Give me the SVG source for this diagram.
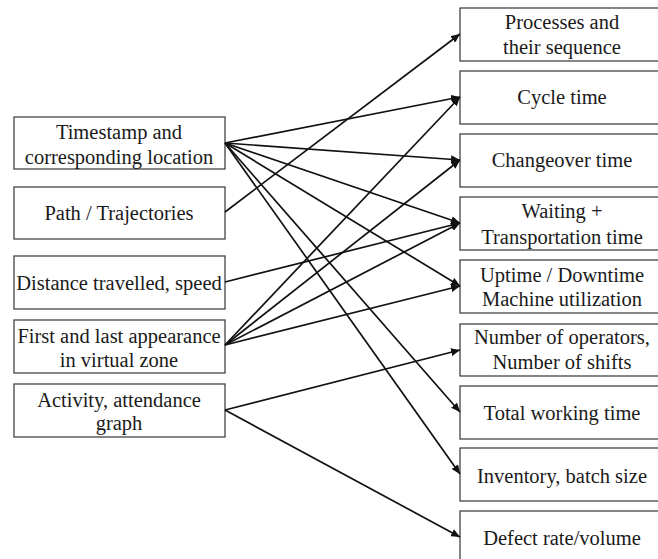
<svg xmlns="http://www.w3.org/2000/svg" width="658" height="559" viewBox="0 0 658 559">
  <style>
    .box { fill: #ffffff; stroke: #444444; stroke-width: 1.3; }
    .lbl { font-family: "Liberation Serif", "Times New Roman", serif; font-size: 20.5px; fill: #1a1a1a; text-anchor: middle; }
    .link { stroke: #111111; stroke-width: 1.7; fill: none; marker-end: url(#arrow); }
  </style>
  <defs>
    <marker id="arrow" markerUnits="userSpaceOnUse" markerWidth="10" markerHeight="8" refX="9" refY="4" orient="auto">
      <path d="M0,0 L9,4 L0,8 Z" fill="#111111"/>
    </marker>
  </defs>
  <rect width="658" height="559" fill="#ffffff"/>

  <!-- data sources -->
  <g id="src-timestamp">
    <rect class="box" x="14" y="117" width="211" height="52"/>
    <text class="lbl" x="119" y="139">Timestamp and</text>
    <text class="lbl" x="119" y="164">corresponding location</text>
  </g>
  <g id="src-path">
    <rect class="box" x="14" y="187" width="211" height="52"/>
    <text class="lbl" x="119" y="220">Path / Trajectories</text>
  </g>
  <g id="src-distance">
    <rect class="box" x="14" y="256" width="211" height="53"/>
    <text class="lbl" x="119" y="290">Distance travelled, speed</text>
  </g>
  <g id="src-appearance">
    <rect class="box" x="14" y="320" width="211" height="53"/>
    <text class="lbl" x="119" y="343">First and last appearance</text>
    <text class="lbl" x="119" y="367">in virtual zone</text>
  </g>
  <g id="src-activity">
    <rect class="box" x="14" y="384" width="211" height="53"/>
    <text class="lbl" x="119" y="407">Activity, attendance</text>
    <text class="lbl" x="119" y="430">graph</text>
  </g>

  <!-- derived metrics -->
  <g id="m-processes">
    <rect class="box" x="460" y="8" width="220" height="53"/>
    <text class="lbl" x="562" y="29">Processes and</text>
    <text class="lbl" x="562" y="54">their sequence</text>
  </g>
  <g id="m-cycle">
    <rect class="box" x="460" y="71" width="220" height="53"/>
    <text class="lbl" x="562" y="104">Cycle time</text>
  </g>
  <g id="m-changeover">
    <rect class="box" x="460" y="134" width="220" height="53"/>
    <text class="lbl" x="562" y="167">Changeover time</text>
  </g>
  <g id="m-waiting">
    <rect class="box" x="460" y="197" width="220" height="53"/>
    <text class="lbl" x="562" y="218">Waiting +</text>
    <text class="lbl" x="562" y="244">Transportation time</text>
  </g>
  <g id="m-uptime">
    <rect class="box" x="460" y="260" width="220" height="53"/>
    <text class="lbl" x="562" y="282">Uptime / Downtime</text>
    <text class="lbl" x="562" y="306">Machine utilization</text>
  </g>
  <g id="m-operators">
    <rect class="box" x="460" y="324" width="220" height="52"/>
    <text class="lbl" x="562" y="344">Number of operators,</text>
    <text class="lbl" x="562" y="369">Number of shifts</text>
  </g>
  <g id="m-working">
    <rect class="box" x="460" y="386" width="220" height="53"/>
    <text class="lbl" x="562" y="420">Total working time</text>
  </g>
  <g id="m-inventory">
    <rect class="box" x="460" y="448" width="220" height="53"/>
    <text class="lbl" x="562" y="483">Inventory, batch size</text>
  </g>
  <g id="m-defect">
    <rect class="box" x="460" y="511" width="220" height="70"/>
    <text class="lbl" x="562" y="545">Defect rate/volume</text>
  </g>

  <!-- connectors -->
  <g id="connectors">
    <line class="link" x1="225" y1="143" x2="460" y2="97"/>
    <line class="link" x1="225" y1="143" x2="460" y2="160"/>
    <line class="link" x1="225" y1="143" x2="460" y2="223"/>
    <line class="link" x1="225" y1="143" x2="460" y2="286"/>
    <line class="link" x1="225" y1="143" x2="460" y2="412"/>
    <line class="link" x1="225" y1="143" x2="460" y2="474"/>
    <line class="link" x1="225" y1="212" x2="460" y2="34"/>
    <line class="link" x1="225" y1="282" x2="460" y2="223"/>
    <line class="link" x1="225" y1="345" x2="460" y2="97"/>
    <line class="link" x1="225" y1="345" x2="460" y2="160"/>
    <line class="link" x1="225" y1="345" x2="460" y2="223"/>
    <line class="link" x1="225" y1="345" x2="460" y2="286"/>
    <line class="link" x1="225" y1="410" x2="460" y2="350"/>
    <line class="link" x1="225" y1="410" x2="460" y2="537"/>
  </g>
</svg>
